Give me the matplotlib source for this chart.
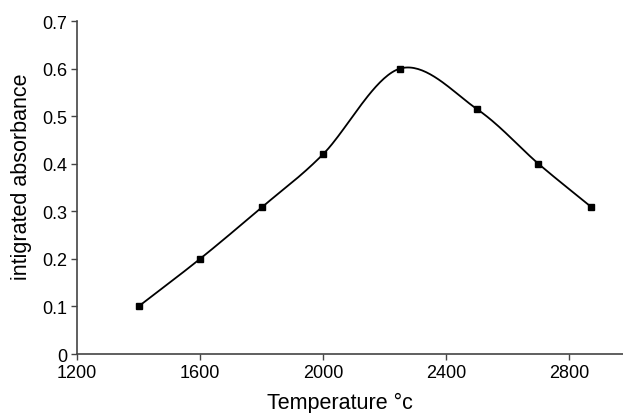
import numpy as np
import matplotlib.pyplot as plt

plt.rcParams['font.family'] = ['Liberation Sans', 'DejaVu Sans']

# data
temperature = [1400, 1600, 1800, 2000, 2250, 2500, 2700, 2870]
absorbance = [0.10, 0.20, 0.308, 0.42, 0.60, 0.515, 0.40, 0.31]
xticks = [1200, 1600, 2000, 2400, 2800]
yticks = [0, 0.1, 0.2, 0.3, 0.4, 0.5, 0.6, 0.7]
yticklabels = ['0', '0.1', '0.2', '0.3', '0.4', '0.5', '0.6', '0.7']


def smooth(x, y, n=40):
    # Catmull-Rom spline through the points (the way the plotting program draws it)
    x = np.asarray(x, float)
    y = np.asarray(y, float)
    px = np.concatenate([[2 * x[0] - x[1]], x, [2 * x[-1] - x[-2]]])
    py = np.concatenate([[2 * y[0] - y[1]], y, [2 * y[-1] - y[-2]]])
    t = np.linspace(0, 1, n)
    xs, ys = [], []
    for i in range(1, len(px) - 2):
        for p, out in ((px, xs), (py, ys)):
            p0, p1, p2, p3 = p[i - 1], p[i], p[i + 1], p[i + 2]
            out.append(0.5 * (2 * p1 + (-p0 + p2) * t
                              + (2 * p0 - 5 * p1 + 4 * p2 - p3) * t ** 2
                              + (-p0 + 3 * p1 - 3 * p2 + p3) * t ** 3))
    return np.concatenate(xs), np.concatenate(ys)


fig = plt.figure(figsize=(6.23, 4.14), dpi=100)
ax = fig.add_axes([0.1236, 0.1425, 0.8764, 0.8043])

sx, sy = smooth(temperature, absorbance)
ax.plot(sx, sy, color='black', lw=1.3)
ax.plot(temperature, absorbance, 's', color='black', ms=4.5)

ax.set_xlim(1200, 2975)
ax.set_ylim(0, 0.7)
ax.set_xticks(xticks)
ax.set_yticks(yticks)
ax.set_yticklabels(yticklabels)
ax.tick_params(labelsize=13, length=4, width=1, color='#444444', pad=3)
for s in ['top', 'right']:
    ax.spines[s].set_visible(False)
for s in ['left', 'bottom']:
    ax.spines[s].set_color('#444444')
    ax.spines[s].set_linewidth(1.2)

ax.set_ylabel('intigrated absorbance', fontsize=15.5)
ax.yaxis.set_label_coords(-0.082, 0.535)
ax.set_xlabel('Temperature °c', fontsize=15.5)
ax.xaxis.set_label_coords(0.482, -0.113)

fig.savefig('out.png', dpi=100)
